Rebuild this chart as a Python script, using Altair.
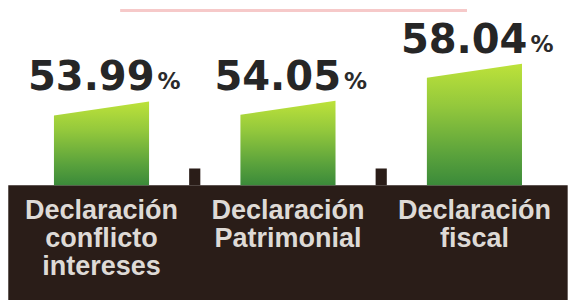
import altair as alt
import pandas as pd

# ---- data ----
categories = [
    "Declaración\nconflicto\nintereses",
    "Declaración\nPatrimonial",
    "Declaración\nfiscal",
]
values = [53.99, 54.05, 58.04]
index = [0, 1, 2]

# ---- layout constants (data units) ----
BASE = 45.0            # value at the bar baseline
Y_DOMAIN = [32.7, 63.9]
X_DOMAIN = [-0.48, 2.55]
HALF = 0.255           # half bar width (index units)
SLANT = 1.5            # slanted top: left edge lower than right edge

xs = alt.Scale(domain=X_DOMAIN, nice=False, zero=False)
ys = alt.Scale(domain=Y_DOMAIN, nice=False, zero=False)

bars = pd.DataFrame({"cat": categories, "idx": index, "value": values})

area_rows = []
for c, i, v in zip(categories, index, values):
    area_rows.append({"cat": c, "x": i - HALF, "y": v - SLANT})
    area_rows.append({"cat": c, "x": i + HALF, "y": v})
area_df = pd.DataFrame(area_rows)

band_df = pd.DataFrame({"x0": [index[0] - 0.5], "x1": [index[-1] + 0.5],
                        "y0": [Y_DOMAIN[0]], "y1": [BASE]})
tick_df = pd.DataFrame({"x0": [i + 0.47 for i in index[:-1]],
                        "x1": [i + 0.53 for i in index[:-1]],
                        "y0": [BASE] * (len(index) - 1),
                        "y1": [BASE + 1.8] * (len(index) - 1)})
topline_df = pd.DataFrame({"x0": [0.1], "x1": [1.96], "y": [63.75]})

green = alt.Gradient(
    gradient="linear",
    stops=[
        alt.GradientStop(color="#bde23a", offset=0),
        alt.GradientStop(color="#93c83c", offset=0.35),
        alt.GradientStop(color="#5aa23c", offset=0.75),
        alt.GradientStop(color="#3b8a3a", offset=1),
    ],
    x1=0, x2=0, y1=0, y2=1,
)

band = alt.Chart(band_df).mark_rect(color="#2a1d18").encode(
    x=alt.X("x0:Q", scale=xs, axis=None),
    x2="x1:Q",
    y=alt.Y("y0:Q", scale=ys, axis=None),
    y2="y1:Q",
)

ticks = alt.Chart(tick_df).mark_rect(color="#2a1d18").encode(
    x=alt.X("x0:Q", scale=xs, axis=None),
    x2="x1:Q",
    y=alt.Y("y0:Q", scale=ys, axis=None),
    y2="y1:Q",
)

areas = alt.Chart(area_df).mark_area(color=green, interpolate="linear").encode(
    x=alt.X("x:Q", scale=xs, axis=None),
    y=alt.Y("y:Q", scale=ys, axis=None),
    y2=alt.Y2(datum=BASE),
    detail="cat:N",
)

numbers = alt.Chart(bars).mark_text(
    font="DejaVu Sans", fontWeight="bold", fontSize=40, align="right",
    baseline="alphabetic", dx=53, dy=-11, color="#262626",
).encode(
    x=alt.X("idx:Q", scale=xs, axis=None),
    y=alt.Y("value:Q", scale=ys, axis=None),
    text=alt.Text("value:Q", format=".2f"),
)

pct = alt.Chart(bars).mark_text(
    font="DejaVu Sans", fontWeight="bold", fontSize=23, align="left",
    baseline="alphabetic", dx=56, dy=-12, color="#2b2b2b",
).encode(
    x=alt.X("idx:Q", scale=xs, axis=None),
    y=alt.Y("value:Q", scale=ys, axis=None),
    text=alt.value("%"),
)

cat_labels = alt.Chart(bars).mark_text(
    lineBreak="\n", font="Liberation Sans", fontWeight="bold", fontSize=27,
    lineHeight=28, color="#dedad6", baseline="top", align="center", dy=13,
).encode(
    x=alt.X("idx:Q", scale=xs, axis=None),
    y=alt.Y(datum=BASE, scale=ys, axis=None),
    text="cat:N",
)

topline = alt.Chart(topline_df).mark_rule(color="#f6c9c9", strokeWidth=3).encode(
    x=alt.X("x0:Q", scale=xs, axis=None),
    x2="x1:Q",
    y=alt.Y("y:Q", scale=ys, axis=None),
)

chart = alt.layer(topline, band, ticks, areas, numbers, pct, cat_labels).properties(
    width=569,
    height=292,
    padding=0,
    autosize=alt.AutoSizeParams(type="fit", contains="padding"),
    background="white",
).configure_view(strokeWidth=0)

chart.save("out.html", embed_options={"renderer": "svg", "actions": False})
